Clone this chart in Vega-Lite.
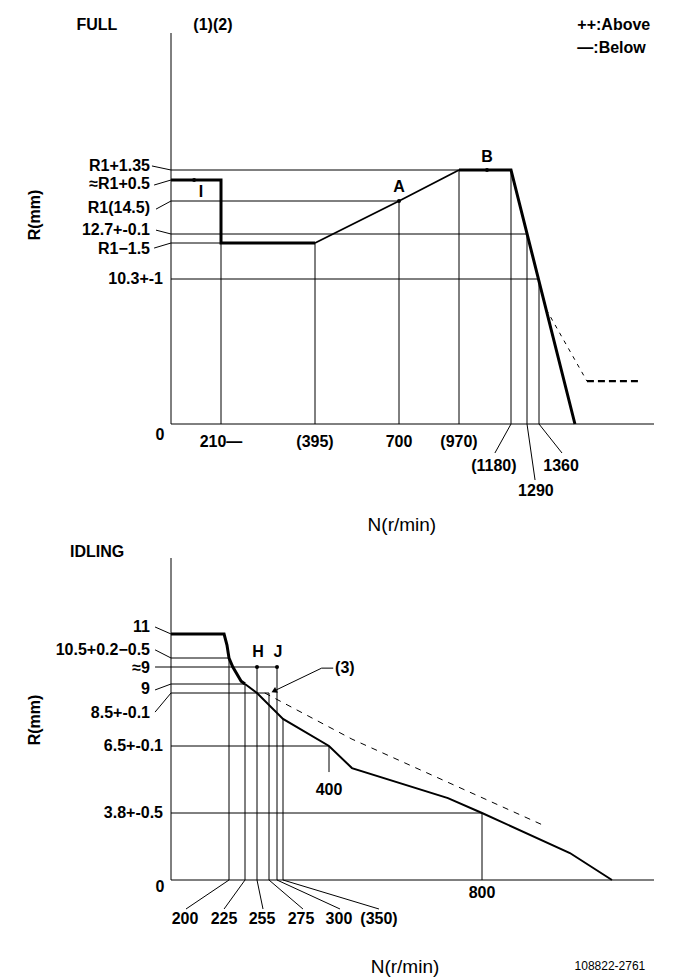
{
"$schema":"https://vega.github.io/schema/vega-lite/v6.json",
"width":681,"height":979,"autosize":"none","padding":0,"background":"white",
"config":{"view":{"stroke":null},"text":{"font":"Liberation Sans, Arial, DejaVu Sans","fontSize":16,"fontWeight":"bold","color":"black","baseline":"middle"}},
"datasets":{
"tR":[{"n1":0,"n2":0,"r1":0,"r2":25},{"n1":0,"n2":1600,"r1":0,"r2":0},
{"n1":0,"n2":970,"r1":15.85,"r2":15.85},{"n1":0,"n2":700,"r1":14.5,"r2":14.5},{"n1":0,"n2":1290,"r1":12.7,"r2":12.7},{"n1":0,"n2":210,"r1":13,"r2":13},{"n1":0,"n2":1360,"r1":10.3,"r2":10.3},
{"n1":210,"n2":210,"r1":13,"r2":0},{"n1":395,"n2":395,"r1":13,"r2":0},{"n1":700,"n2":700,"r1":14.5,"r2":0},{"n1":970,"n2":970,"r1":15.85,"r2":0},{"n1":1180,"n2":1180,"r1":15.85,"r2":0},{"n1":1290,"n2":1290,"r1":12.7,"r2":0},{"n1":1360,"n2":1360,"r1":10.3,"r2":0},
{"n1":-80,"n2":0,"r1":16.12,"r2":15.85},{"n1":-71,"n2":0,"r1":14.88,"r2":15},{"n1":-63,"n2":0,"r1":14.21,"r2":14.5},{"n1":-63,"n2":0,"r1":13.46,"r2":12.7},{"n1":-71,"n2":0,"r1":11.95,"r2":13},
{"n1":1180,"n2":1115,"r1":0,"r2":-2.06},{"n1":1290,"n2":1337,"r1":0,"r2":-3.98},{"n1":1360,"n2":1408,"r1":0,"r2":-2.06}],
"tC":[{"s":"k","g":1,"i":1,"n":0,"r":15},{"s":"k","g":1,"i":2,"n":210,"r":15},{"s":"k","g":1,"i":3,"n":210,"r":13},{"s":"k","g":1,"i":4,"n":395,"r":13},
{"s":"r","g":2,"i":1,"n":395,"r":13},{"s":"r","g":2,"i":2,"n":700,"r":14.5},{"s":"r","g":2,"i":3,"n":970,"r":15.85},
{"s":"k","g":3,"i":1,"n":970,"r":15.85},{"s":"k","g":3,"i":2,"n":1180,"r":15.85},{"s":"k","g":3,"i":3,"n":1435,"r":0},
{"s":"d1","g":4,"i":1,"n":1375,"r":8.15},{"s":"d1","g":4,"i":2,"n":1460,"r":3.05},
{"s":"d2","g":5,"i":1,"n":1460,"r":3.05},{"s":"d2","g":5,"i":2,"n":1567,"r":3.05}],
"tP":[{"n":97,"r":15},{"n":700,"r":14.5},{"n":1083,"r":15.85}],
"tT":[{"k":"yl","t":"R1+1.35","r":16.12},{"k":"yl","t":"≈R1+0.5","r":14.9},{"k":"yl","t":"R1(14.5)","r":14.25},{"k":"yl","t":"12.7+-0.1","r":13.46},{"k":"yl","t":"R1−1.5","r":11.9},
{"k":"yl2","t":"10.3+-1","r":10.3},
{"k":"c","t":"0","n":-46,"r":-0.78},{"k":"c","t":"210—","n":210,"r":-1.28},{"k":"c","t":"(395)","n":395,"r":-1.28},{"k":"c","t":"700","n":700,"r":-1.28},{"k":"c","t":"(970)","n":970,"r":-1.28},
{"k":"c","t":"(1180)","n":1111,"r":-2.98},{"k":"c","t":"1290","n":1342,"r":-4.76},{"k":"c","t":"1360","n":1406,"r":-2.98},
{"k":"c","t":"A","n":700,"r":14.83},{"k":"c","t":"B","n":1083,"r":16.72},{"k":"c","t":"I","n":126,"r":14.71},
{"k":"c","t":"FULL","n":-311,"r":25.53},{"k":"c","t":"(1)(2)","n":176,"r":25.53},
{"k":"n","t":"N(r/min)","n":713,"r":-7.17},
{"k":"rot","t":"R(mm)","n":-571,"r":14.0},
{"k":"left","t":"++:Above","n":1440,"r":25.53},{"k":"left","t":"—:Below","n":1440,"r":24.0}],
"bR":[{"n1":0,"n2":0,"r1":0,"r2":20},{"n1":0,"n2":1250,"r1":0,"r2":0},
{"n1":0,"n2":200,"r1":10.5,"r2":10.5},{"n1":0,"n2":300,"r1":9.3,"r2":9.3},{"n1":0,"n2":225,"r1":9,"r2":9},{"n1":0,"n2":275,"r1":8.5,"r2":8.5},{"n1":0,"n2":400,"r1":6.5,"r2":6.5},{"n1":0,"n2":800,"r1":3.8,"r2":3.8},
{"n1":200,"n2":200,"r1":10.5,"r2":0},{"n1":225,"n2":225,"r1":9,"r2":0},{"n1":255,"n2":255,"r1":9.3,"r2":0},{"n1":275,"n2":275,"r1":8.5,"r2":0},{"n1":300,"n2":300,"r1":9.3,"r2":0},{"n1":350,"n2":350,"r1":7.52,"r2":0},{"n1":400,"n2":400,"r1":6.5,"r2":5.45},{"n1":800,"n2":800,"r1":3.8,"r2":0},
{"n1":-55,"n2":0,"r1":11.83,"r2":11},{"n1":-55,"n2":0,"r1":10.67,"r2":10.5},{"n1":-55,"n2":0,"r1":9.3,"r2":9.3},{"n1":-55,"n2":0,"r1":8.67,"r2":9},{"n1":-55,"n2":0,"r1":7.78,"r2":8.5},
{"n1":200,"n2":51.7,"r1":0,"r2":-1.645},{"n1":225,"n2":183,"r1":0,"r2":-1.645},{"n1":255,"n2":265,"r1":0,"r2":-1.645},{"n1":275,"n2":371.7,"r1":0,"r2":-1.645},{"n1":300,"n2":428.8,"r1":0,"r2":-1.645},{"n1":350,"n2":530.7,"r1":0,"r2":-1.645}],
"bC":[{"s":"k","i":1,"n":0,"r":11},{"s":"k","i":2,"n":183,"r":11},{"s":"k","i":3,"n":193,"r":10.77},{"s":"k","i":4,"n":200,"r":10.5},{"s":"k","i":5,"n":206,"r":9.3},{"s":"k","i":6,"n":219,"r":9.05},{"s":"k","i":7,"n":225,"r":9},
{"s":"m","i":1,"n":225,"r":9},{"s":"m","i":2,"n":255,"r":8.5},{"s":"m","i":3,"n":350,"r":7.52},{"s":"m","i":4,"n":400,"r":6.5},{"s":"m","i":5,"n":460,"r":5.61},{"s":"m","i":6,"n":711,"r":4.4},{"s":"m","i":7,"n":800,"r":3.8},{"s":"m","i":8,"n":1030,"r":1.53},{"s":"m","i":9,"n":1140,"r":0},
{"s":"d","i":1,"n":268,"r":8.5},{"s":"d","i":2,"n":460,"r":6.76},{"s":"d","i":3,"n":965,"r":3.06},
{"s":"l","i":1,"n":411,"r":9.28},{"s":"l","i":2,"n":392,"r":9.28},{"s":"l","i":3,"n":290.6,"r":8.61}],
"bP":[{"n":255,"r":9.3},{"n":300,"r":9.3}],
"bA":[{"n":290.6,"r":8.61}],
"bT":[{"k":"yl","t":"11","r":11.87},{"k":"yl","t":"10.5+0.2−0.5","r":10.67},{"k":"yl","t":"≈9","r":9.28},{"k":"yl","t":"9","r":8.72},{"k":"yl","t":"8.5+-0.1","r":7.75},
{"k":"yl2","t":"6.5+-0.1","r":6.5},{"k":"yl2","t":"3.8+-0.5","r":3.8},
{"k":"c","t":"0","n":-38,"r":-0.42},{"k":"c","t":"200","n":48.3,"r":-2.21},{"k":"c","t":"225","n":183,"r":-2.21},{"k":"c","t":"255","n":263.3,"r":-2.21},{"k":"c","t":"275","n":369.6,"r":-2.21},{"k":"c","t":"300","n":426,"r":-2.21},{"k":"c","t":"(350)","n":530.7,"r":-2.21},
{"k":"c","t":"800","n":800,"r":-0.74},{"k":"c","t":"400","n":400,"r":4.73},{"k":"c","t":"H","n":256.7,"r":10.625},{"k":"c","t":"J","n":308,"r":10.625},{"k":"c","t":"IDLING","n":-255,"r":20.71},
{"k":"left","t":"(3)","n":416,"r":9.28},
{"k":"n","t":"N(r/min)","n":598.7,"r":-4.93},
{"k":"small","t":"108822-2761","n":1134.6,"r":-4.88},
{"k":"rot","t":"R(mm)","n":-469,"r":7.48}]
},
"layer":[
{"layer":[
{"data":{"name":"tR"},"mark":{"type":"rule","strokeWidth":1,"color":"black"},"encoding":{"x":{"field":"n1","type":"quantitative","axis":null,"scale":{"domain":[0,210,395,700,970,1180,1290,1360,1600],"range":[171,221,315,399,459,511,527,539,654],"nice":false,"zero":false}},"x2":{"field":"n2"},"y":{"field":"r1","type":"quantitative","axis":null,"scale":{"domain":[0,10.3,12.7,13,14.5,15,15.85,25],"range":[424,279,234,243,201,180,170,33],"nice":false,"zero":false}},"y2":{"field":"r2"}}},
{"data":{"name":"tC"},"transform":[{"filter":"datum.s==='k'"}],"mark":{"type":"line","strokeWidth":3,"color":"black","strokeJoin":"miter"},"encoding":{"x":{"field":"n","type":"quantitative","axis":null,"scale":{"domain":[0,210,395,700,970,1180,1290,1360,1600],"range":[171,221,315,399,459,511,527,539,654],"nice":false,"zero":false}},"y":{"field":"r","type":"quantitative","axis":null,"scale":{"domain":[0,10.3,12.7,13,14.5,15,15.85,25],"range":[424,279,234,243,201,180,170,33],"nice":false,"zero":false}},"detail":{"field":"g"},"order":{"field":"i","type":"quantitative"}}},
{"data":{"name":"tC"},"transform":[{"filter":"datum.s==='r'"}],"mark":{"type":"line","strokeWidth":1.8,"color":"black"},"encoding":{"x":{"field":"n","type":"quantitative","axis":null,"scale":{"domain":[0,210,395,700,970,1180,1290,1360,1600],"range":[171,221,315,399,459,511,527,539,654],"nice":false,"zero":false}},"y":{"field":"r","type":"quantitative","axis":null,"scale":{"domain":[0,10.3,12.7,13,14.5,15,15.85,25],"range":[424,279,234,243,201,180,170,33],"nice":false,"zero":false}},"order":{"field":"i","type":"quantitative"}}},
{"data":{"name":"tC"},"transform":[{"filter":"datum.s==='d1'"}],"mark":{"type":"line","strokeWidth":1,"color":"black","strokeDash":[4,5]},"encoding":{"x":{"field":"n","type":"quantitative","axis":null,"scale":{"domain":[0,210,395,700,970,1180,1290,1360,1600],"range":[171,221,315,399,459,511,527,539,654],"nice":false,"zero":false}},"y":{"field":"r","type":"quantitative","axis":null,"scale":{"domain":[0,10.3,12.7,13,14.5,15,15.85,25],"range":[424,279,234,243,201,180,170,33],"nice":false,"zero":false}},"order":{"field":"i","type":"quantitative"}}},
{"data":{"name":"tC"},"transform":[{"filter":"datum.s==='d2'"}],"mark":{"type":"line","strokeWidth":2.2,"color":"black","strokeDash":[7,4]},"encoding":{"x":{"field":"n","type":"quantitative","axis":null,"scale":{"domain":[0,210,395,700,970,1180,1290,1360,1600],"range":[171,221,315,399,459,511,527,539,654],"nice":false,"zero":false}},"y":{"field":"r","type":"quantitative","axis":null,"scale":{"domain":[0,10.3,12.7,13,14.5,15,15.85,25],"range":[424,279,234,243,201,180,170,33],"nice":false,"zero":false}},"order":{"field":"i","type":"quantitative"}}},
{"data":{"name":"tP"},"mark":{"type":"circle","size":16,"color":"black","opacity":1},"encoding":{"x":{"field":"n","type":"quantitative","axis":null,"scale":{"domain":[0,210,395,700,970,1180,1290,1360,1600],"range":[171,221,315,399,459,511,527,539,654],"nice":false,"zero":false}},"y":{"field":"r","type":"quantitative","axis":null,"scale":{"domain":[0,10.3,12.7,13,14.5,15,15.85,25],"range":[424,279,234,243,201,180,170,33],"nice":false,"zero":false}}}},
{"data":{"name":"tT"},"transform":[{"filter":"datum.k==='c'"}],"mark":{"type":"text","align":"center"},"encoding":{"x":{"field":"n","type":"quantitative","axis":null,"scale":{"domain":[0,210,395,700,970,1180,1290,1360,1600],"range":[171,221,315,399,459,511,527,539,654],"nice":false,"zero":false}},"y":{"field":"r","type":"quantitative","axis":null,"scale":{"domain":[0,10.3,12.7,13,14.5,15,15.85,25],"range":[424,279,234,243,201,180,170,33],"nice":false,"zero":false}},"text":{"field":"t"}}},
{"data":{"name":"tT"},"transform":[{"filter":"datum.k==='left'"}],"mark":{"type":"text","align":"left"},"encoding":{"x":{"field":"n","type":"quantitative","axis":null,"scale":{"domain":[0,210,395,700,970,1180,1290,1360,1600],"range":[171,221,315,399,459,511,527,539,654],"nice":false,"zero":false}},"y":{"field":"r","type":"quantitative","axis":null,"scale":{"domain":[0,10.3,12.7,13,14.5,15,15.85,25],"range":[424,279,234,243,201,180,170,33],"nice":false,"zero":false}},"text":{"field":"t"}}},
{"data":{"name":"tT"},"transform":[{"filter":"datum.k==='n'"}],"mark":{"type":"text","align":"center","fontWeight":"normal","fontSize":19},"encoding":{"x":{"field":"n","type":"quantitative","axis":null,"scale":{"domain":[0,210,395,700,970,1180,1290,1360,1600],"range":[171,221,315,399,459,511,527,539,654],"nice":false,"zero":false}},"y":{"field":"r","type":"quantitative","axis":null,"scale":{"domain":[0,10.3,12.7,13,14.5,15,15.85,25],"range":[424,279,234,243,201,180,170,33],"nice":false,"zero":false}},"text":{"field":"t"}}},
{"data":{"name":"tT"},"transform":[{"filter":"datum.k==='rot'"}],"mark":{"type":"text","align":"center","angle":270},"encoding":{"x":{"field":"n","type":"quantitative","axis":null,"scale":{"domain":[0,210,395,700,970,1180,1290,1360,1600],"range":[171,221,315,399,459,511,527,539,654],"nice":false,"zero":false}},"y":{"field":"r","type":"quantitative","axis":null,"scale":{"domain":[0,10.3,12.7,13,14.5,15,15.85,25],"range":[424,279,234,243,201,180,170,33],"nice":false,"zero":false}},"text":{"field":"t"}}},
{"data":{"name":"tT"},"transform":[{"filter":"datum.k==='yl'"}],"mark":{"type":"text","align":"right","dx":-21},"encoding":{"x":{"datum":0,"type":"quantitative","axis":null,"scale":{"domain":[0,210,395,700,970,1180,1290,1360,1600],"range":[171,221,315,399,459,511,527,539,654],"nice":false,"zero":false}},"y":{"field":"r","type":"quantitative","axis":null,"scale":{"domain":[0,10.3,12.7,13,14.5,15,15.85,25],"range":[424,279,234,243,201,180,170,33],"nice":false,"zero":false}},"text":{"field":"t"}}},
{"data":{"name":"tT"},"transform":[{"filter":"datum.k==='yl2'"}],"mark":{"type":"text","align":"right","dx":-8},"encoding":{"x":{"datum":0,"type":"quantitative","axis":null,"scale":{"domain":[0,210,395,700,970,1180,1290,1360,1600],"range":[171,221,315,399,459,511,527,539,654],"nice":false,"zero":false}},"y":{"field":"r","type":"quantitative","axis":null,"scale":{"domain":[0,10.3,12.7,13,14.5,15,15.85,25],"range":[424,279,234,243,201,180,170,33],"nice":false,"zero":false}},"text":{"field":"t"}}}
]},
{"layer":[
{"data":{"name":"bR"},"mark":{"type":"rule","strokeWidth":1,"color":"black"},"encoding":{"x":{"field":"n1","type":"quantitative","axis":null,"scale":{"domain":[0,200,225,255,275,300,350,400,800,1250],"range":[171,229,245,257,269,277,283,329,482,654],"nice":false,"zero":false}},"x2":{"field":"n2"},"y":{"field":"r1","type":"quantitative","axis":null,"scale":{"domain":[0,3.8,6.5,8.5,9,9.3,10.5,11,20],"range":[880,813,746,693,684,667,658,634,558],"nice":false,"zero":false}},"y2":{"field":"r2"}}},
{"data":{"name":"bC"},"transform":[{"filter":"datum.s==='k'"}],"mark":{"type":"line","strokeWidth":3,"color":"black"},"encoding":{"x":{"field":"n","type":"quantitative","axis":null,"scale":{"domain":[0,200,225,255,275,300,350,400,800,1250],"range":[171,229,245,257,269,277,283,329,482,654],"nice":false,"zero":false}},"y":{"field":"r","type":"quantitative","axis":null,"scale":{"domain":[0,3.8,6.5,8.5,9,9.3,10.5,11,20],"range":[880,813,746,693,684,667,658,634,558],"nice":false,"zero":false}},"order":{"field":"i","type":"quantitative"}}},
{"data":{"name":"bC"},"transform":[{"filter":"datum.s==='m'"}],"mark":{"type":"line","strokeWidth":2,"color":"black"},"encoding":{"x":{"field":"n","type":"quantitative","axis":null,"scale":{"domain":[0,200,225,255,275,300,350,400,800,1250],"range":[171,229,245,257,269,277,283,329,482,654],"nice":false,"zero":false}},"y":{"field":"r","type":"quantitative","axis":null,"scale":{"domain":[0,3.8,6.5,8.5,9,9.3,10.5,11,20],"range":[880,813,746,693,684,667,658,634,558],"nice":false,"zero":false}},"order":{"field":"i","type":"quantitative"}}},
{"data":{"name":"bC"},"transform":[{"filter":"datum.s==='d'"}],"mark":{"type":"line","strokeWidth":1,"color":"black","strokeDash":[6,6]},"encoding":{"x":{"field":"n","type":"quantitative","axis":null,"scale":{"domain":[0,200,225,255,275,300,350,400,800,1250],"range":[171,229,245,257,269,277,283,329,482,654],"nice":false,"zero":false}},"y":{"field":"r","type":"quantitative","axis":null,"scale":{"domain":[0,3.8,6.5,8.5,9,9.3,10.5,11,20],"range":[880,813,746,693,684,667,658,634,558],"nice":false,"zero":false}},"order":{"field":"i","type":"quantitative"}}},
{"data":{"name":"bC"},"transform":[{"filter":"datum.s==='l'"}],"mark":{"type":"line","strokeWidth":1,"color":"black"},"encoding":{"x":{"field":"n","type":"quantitative","axis":null,"scale":{"domain":[0,200,225,255,275,300,350,400,800,1250],"range":[171,229,245,257,269,277,283,329,482,654],"nice":false,"zero":false}},"y":{"field":"r","type":"quantitative","axis":null,"scale":{"domain":[0,3.8,6.5,8.5,9,9.3,10.5,11,20],"range":[880,813,746,693,684,667,658,634,558],"nice":false,"zero":false}},"order":{"field":"i","type":"quantitative"}}},
{"data":{"name":"bP"},"mark":{"type":"circle","size":16,"color":"black","opacity":1},"encoding":{"x":{"field":"n","type":"quantitative","axis":null,"scale":{"domain":[0,200,225,255,275,300,350,400,800,1250],"range":[171,229,245,257,269,277,283,329,482,654],"nice":false,"zero":false}},"y":{"field":"r","type":"quantitative","axis":null,"scale":{"domain":[0,3.8,6.5,8.5,9,9.3,10.5,11,20],"range":[880,813,746,693,684,667,658,634,558],"nice":false,"zero":false}}}},
{"data":{"name":"bA"},"mark":{"type":"point","shape":"triangle-up","filled":true,"size":40,"color":"black","opacity":1,"angle":244},"encoding":{"x":{"field":"n","type":"quantitative","axis":null,"scale":{"domain":[0,200,225,255,275,300,350,400,800,1250],"range":[171,229,245,257,269,277,283,329,482,654],"nice":false,"zero":false}},"y":{"field":"r","type":"quantitative","axis":null,"scale":{"domain":[0,3.8,6.5,8.5,9,9.3,10.5,11,20],"range":[880,813,746,693,684,667,658,634,558],"nice":false,"zero":false}}}},
{"data":{"name":"bT"},"transform":[{"filter":"datum.k==='c'"}],"mark":{"type":"text","align":"center"},"encoding":{"x":{"field":"n","type":"quantitative","axis":null,"scale":{"domain":[0,200,225,255,275,300,350,400,800,1250],"range":[171,229,245,257,269,277,283,329,482,654],"nice":false,"zero":false}},"y":{"field":"r","type":"quantitative","axis":null,"scale":{"domain":[0,3.8,6.5,8.5,9,9.3,10.5,11,20],"range":[880,813,746,693,684,667,658,634,558],"nice":false,"zero":false}},"text":{"field":"t"}}},
{"data":{"name":"bT"},"transform":[{"filter":"datum.k==='left'"}],"mark":{"type":"text","align":"left"},"encoding":{"x":{"field":"n","type":"quantitative","axis":null,"scale":{"domain":[0,200,225,255,275,300,350,400,800,1250],"range":[171,229,245,257,269,277,283,329,482,654],"nice":false,"zero":false}},"y":{"field":"r","type":"quantitative","axis":null,"scale":{"domain":[0,3.8,6.5,8.5,9,9.3,10.5,11,20],"range":[880,813,746,693,684,667,658,634,558],"nice":false,"zero":false}},"text":{"field":"t"}}},
{"data":{"name":"bT"},"transform":[{"filter":"datum.k==='n'"}],"mark":{"type":"text","align":"center","fontWeight":"normal","fontSize":19},"encoding":{"x":{"field":"n","type":"quantitative","axis":null,"scale":{"domain":[0,200,225,255,275,300,350,400,800,1250],"range":[171,229,245,257,269,277,283,329,482,654],"nice":false,"zero":false}},"y":{"field":"r","type":"quantitative","axis":null,"scale":{"domain":[0,3.8,6.5,8.5,9,9.3,10.5,11,20],"range":[880,813,746,693,684,667,658,634,558],"nice":false,"zero":false}},"text":{"field":"t"}}},
{"data":{"name":"bT"},"transform":[{"filter":"datum.k==='small'"}],"mark":{"type":"text","align":"center","fontWeight":"normal","fontSize":12},"encoding":{"x":{"field":"n","type":"quantitative","axis":null,"scale":{"domain":[0,200,225,255,275,300,350,400,800,1250],"range":[171,229,245,257,269,277,283,329,482,654],"nice":false,"zero":false}},"y":{"field":"r","type":"quantitative","axis":null,"scale":{"domain":[0,3.8,6.5,8.5,9,9.3,10.5,11,20],"range":[880,813,746,693,684,667,658,634,558],"nice":false,"zero":false}},"text":{"field":"t"}}},
{"data":{"name":"bT"},"transform":[{"filter":"datum.k==='rot'"}],"mark":{"type":"text","align":"center","angle":270},"encoding":{"x":{"field":"n","type":"quantitative","axis":null,"scale":{"domain":[0,200,225,255,275,300,350,400,800,1250],"range":[171,229,245,257,269,277,283,329,482,654],"nice":false,"zero":false}},"y":{"field":"r","type":"quantitative","axis":null,"scale":{"domain":[0,3.8,6.5,8.5,9,9.3,10.5,11,20],"range":[880,813,746,693,684,667,658,634,558],"nice":false,"zero":false}},"text":{"field":"t"}}},
{"data":{"name":"bT"},"transform":[{"filter":"datum.k==='yl'"}],"mark":{"type":"text","align":"right","dx":-21},"encoding":{"x":{"datum":0,"type":"quantitative","axis":null,"scale":{"domain":[0,200,225,255,275,300,350,400,800,1250],"range":[171,229,245,257,269,277,283,329,482,654],"nice":false,"zero":false}},"y":{"field":"r","type":"quantitative","axis":null,"scale":{"domain":[0,3.8,6.5,8.5,9,9.3,10.5,11,20],"range":[880,813,746,693,684,667,658,634,558],"nice":false,"zero":false}},"text":{"field":"t"}}},
{"data":{"name":"bT"},"transform":[{"filter":"datum.k==='yl2'"}],"mark":{"type":"text","align":"right","dx":-8},"encoding":{"x":{"datum":0,"type":"quantitative","axis":null,"scale":{"domain":[0,200,225,255,275,300,350,400,800,1250],"range":[171,229,245,257,269,277,283,329,482,654],"nice":false,"zero":false}},"y":{"field":"r","type":"quantitative","axis":null,"scale":{"domain":[0,3.8,6.5,8.5,9,9.3,10.5,11,20],"range":[880,813,746,693,684,667,658,634,558],"nice":false,"zero":false}},"text":{"field":"t"}}}
]}
],
"resolve":{"scale":{"x":"independent","y":"independent"}}
}
